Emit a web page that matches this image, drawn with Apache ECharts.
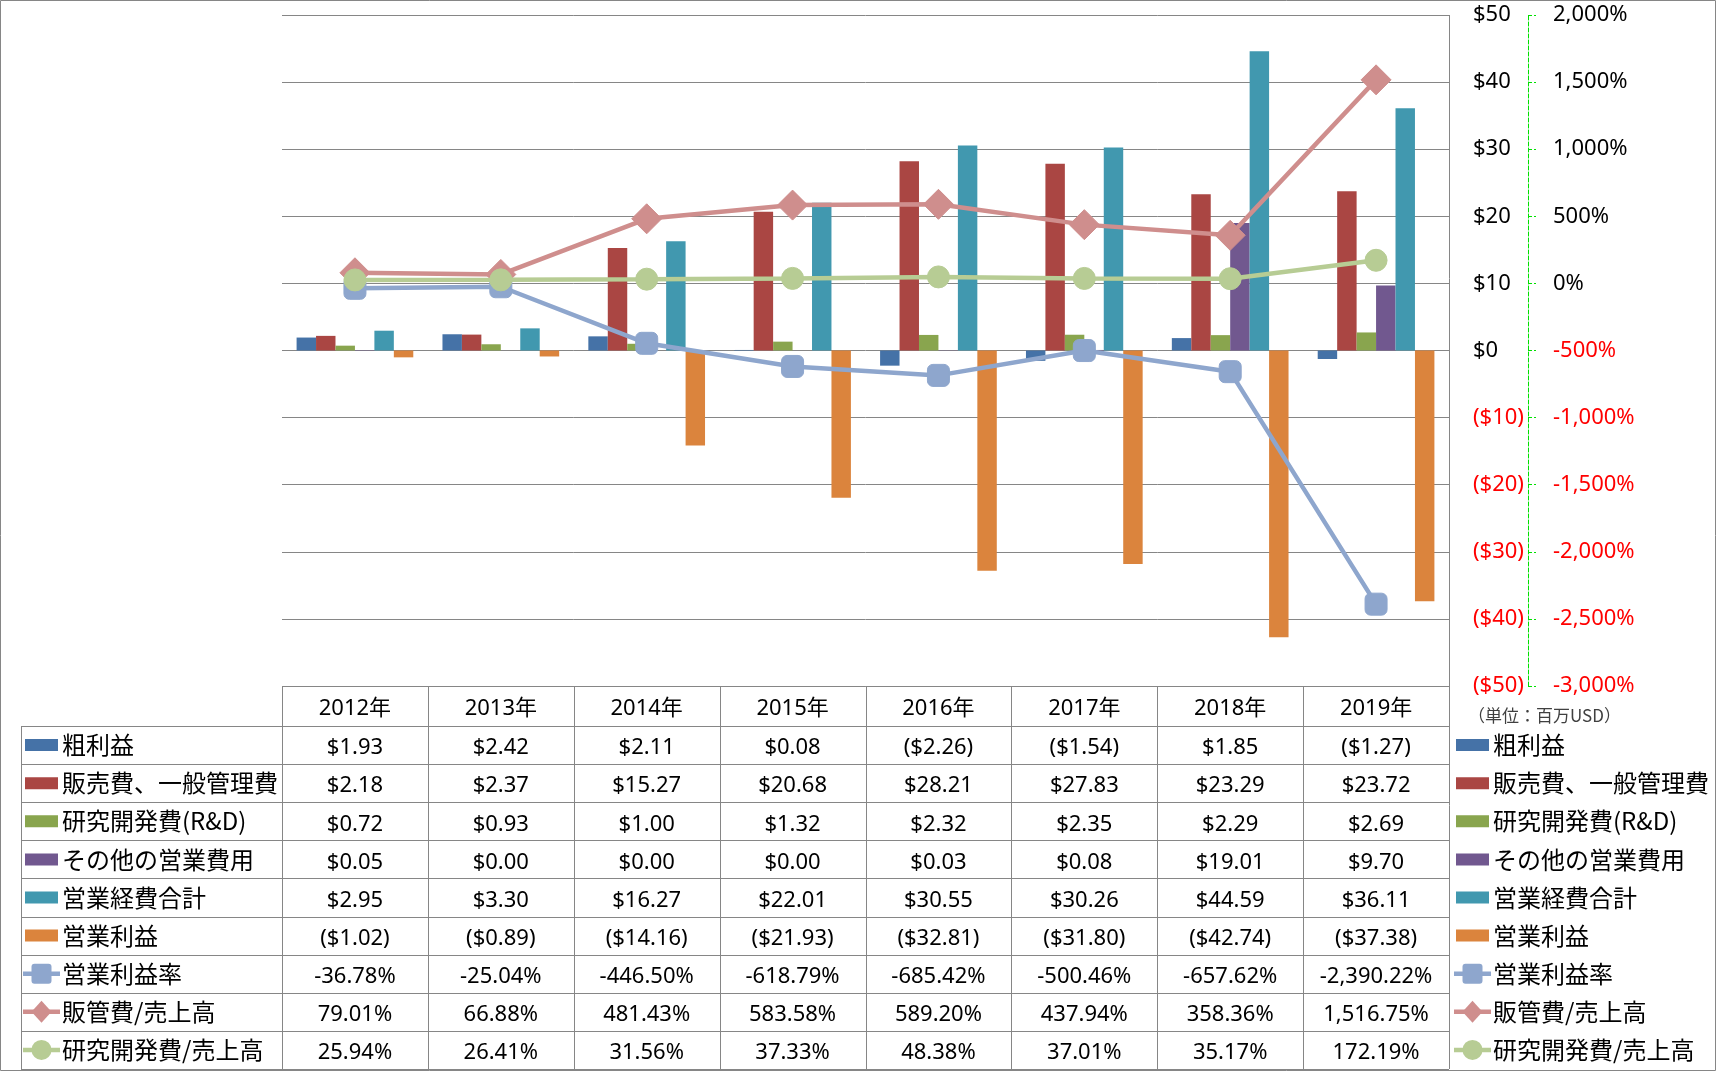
<!DOCTYPE html>
<html>
<head>
<meta charset="utf-8">
<script src="https://cdn.jsdelivr.net/npm/echarts@6/dist/echarts.min.js"></script>
<style>
html,body{margin:0;padding:0;background:#fff;}
#main{width:1716px;height:1071px;}
</style>
</head>
<body>
<div id="main"></div>
<script>
// ---- data ----
var years = ['2012年','2013年','2014年','2015年','2016年','2017年','2018年','2019年'];
var grossProfit = [1.93, 2.42, 2.11, 0.08, -2.26, -1.54, 1.85, -1.27];
var sgaExpense = [2.18, 2.37, 15.27, 20.68, 28.21, 27.83, 23.29, 23.72];
var rdExpense = [0.72, 0.93, 1.00, 1.32, 2.32, 2.35, 2.29, 2.69];
var otherExpense = [0.05, 0.00, 0.00, 0.00, 0.03, 0.08, 19.01, 9.70];
var totalOpex = [2.95, 3.30, 16.27, 22.01, 30.55, 30.26, 44.59, 36.11];
var opIncome = [-1.02, -0.89, -14.16, -21.93, -32.81, -31.80, -42.74, -37.38];
var opMargin = [-36.78, -25.04, -446.50, -618.79, -685.42, -500.46, -657.62, -2390.22];
var sgaRatio = [79.01, 66.88, 481.43, 583.58, 589.20, 437.94, 358.36, 1516.75];
var rdRatio = [25.94, 26.41, 31.56, 37.33, 48.38, 37.01, 35.17, 172.19];
var seriesNames = ['粗利益','販売費、一般管理費','研究開発費(R&D)','その他の営業費用','営業経費合計','営業利益','営業利益率','販管費/売上高','研究開発費/売上高'];
var unitNote = '（単位：百万USD）';

// ---- styles ----
var barColors = ['#4572A7','#AA4643','#89A54E','#71588F','#4198AF','#DB843D'];
var lineColors = ['#8EA6CD','#CF8E8D','#B7CC94'];
var grid = {L:282, R:1449, T:15, B:686};
var tbl = {headTop:686, headBot:726, bot:1069, labelLeft:21};
var gray = '#868686';
var numFont = '"Noto Sans", "Noto Sans CJK JP", sans-serif';
var cjkFont = '"Noto Sans CJK JP", "Noto Sans", sans-serif';
var numDy = 3;

function fmtMoney(v){
  var s = '$' + Math.abs(v).toFixed(2);
  return v < 0 ? '(' + s + ')' : s;
}
function fmtPct(v){
  return v.toLocaleString('en-US',{minimumFractionDigits:2,maximumFractionDigits:2}) + '%';
}

var chart = echarts.init(document.getElementById('main'), null, {renderer:'canvas'});

var barData = [grossProfit, sgaExpense, rdExpense, otherExpense, totalOpex, opIncome];
var lineData = [opMargin, sgaRatio, rdRatio];
var lineSymbols = ['roundRect','diamond','circle'];
var lineSymSize = [22, 30, 22];

var series = [];
barData.forEach(function(d, i){
  series.push({
    name: seriesNames[i], type:'bar', data:d, yAxisIndex:0,
    barGap:'0%', barCategoryGap:'20%',
    itemStyle:{color:barColors[i]}, z:2
  });
});
lineData.forEach(function(d, i){
  series.push({
    name: seriesNames[6+i], type:'line', data:d, yAxisIndex:1,
    symbol: lineSymbols[i], symbolSize: lineSymSize[i], showSymbol:true,
    lineStyle:{color:lineColors[i], width:4.5},
    itemStyle:{color:lineColors[i], borderColor:lineColors[i], borderWidth:1},
    z:5+i
  });
});

// ---- table & legend graphics ----
var g = [];
var colW = (grid.R - grid.L) / years.length;
var nRows = seriesNames.length;
var rowH = (tbl.bot - tbl.headBot) / nRows;
function hline(x1, x2, y){ g.push({type:'line', silent:true, shape:{x1:x1, y1:Math.round(y)+0.5, x2:x2, y2:Math.round(y)+0.5}, style:{stroke:gray, lineWidth:1}}); }
function vline(x, y1, y2){ g.push({type:'line', silent:true, shape:{x1:Math.round(x)+0.5, y1:y1, x2:Math.round(x)+0.5, y2:y2}, style:{stroke:gray, lineWidth:1}}); }
function text(t, x, y, size, family, align, color){
  g.push({type:'text', silent:true, style:{text:t, x:x, y:y, fontSize:size, fontFamily:family, align:align, verticalAlign:'middle', fill:color||'#000'}});
}
// outer border
g.push({type:'rect', silent:true, shape:{x:0.5, y:0.5, width:1715, height:1070}, style:{fill:'none', stroke:gray, lineWidth:1}});
// table lines
hline(grid.L, grid.R, tbl.headTop);
for (var r = 0; r <= nRows; r++) hline(tbl.labelLeft, grid.R, tbl.headBot + r*rowH);
vline(tbl.labelLeft, tbl.headBot, tbl.bot);
for (var c = 0; c < years.length; c++) vline(grid.L + c*colW, tbl.headTop, tbl.bot);
vline(grid.R, grid.T, tbl.bot);
// header
years.forEach(function(y, c){ text(y, grid.L + (c+0.5)*colW, (tbl.headTop+tbl.headBot)/2 + numDy, 22, numFont, 'center'); });
// rows
var rowsData = barData.concat(lineData);
rowsData.forEach(function(d, r){
  var cy = tbl.headBot + (r+0.5)*rowH + numDy;
  d.forEach(function(v, c){
    text(r < 6 ? fmtMoney(v) : fmtPct(v), grid.L + (c+0.5)*colW, cy, 22, numFont, 'center');
  });
});
// legend keys
function legendKey(r, x1, x2){
  var cy = tbl.headBot + (r+0.5)*rowH;
  if (r < 6) {
    g.push({type:'rect', silent:true, shape:{x:x1+2, y:cy-6, width:x2-x1-4, height:12}, style:{fill:barColors[r]}});
  } else {
    var li = r - 6, col = lineColors[li], cx = (x1+x2)/2;
    g.push({type:'line', silent:true, shape:{x1:x1, y1:cy, x2:x2, y2:cy}, style:{stroke:col, lineWidth:4.5}});
    if (li === 0) g.push({type:'rect', silent:true, shape:{x:cx-10, y:cy-10, width:20, height:20, r:3}, style:{fill:col}});
    else if (li === 1) g.push({type:'polygon', silent:true, shape:{points:[[cx,cy-11],[cx+10,cy],[cx,cy+11],[cx-10,cy]]}, style:{fill:col}});
    else g.push({type:'circle', silent:true, shape:{cx:cx, cy:cy, r:10}, style:{fill:col}});
  }
}
seriesNames.forEach(function(n, r){
  var cy = tbl.headBot + (r+0.5)*rowH;
  legendKey(r, 23, 60);
  text(n, 62, cy, 24, cjkFont, 'left');
  legendKey(r, 1454, 1491);
  text(n, 1493, cy, 24, cjkFont, 'left');
});
// unit note
text(unitNote, 1468, 716, 17, cjkFont, 'left', '#404040');

var option = {
  animation:false,
  backgroundColor:'#fff',
  grid:{left:grid.L, right:1716-grid.R, top:grid.T, bottom:1071-grid.B, containLabel:false},
  xAxis:{
    type:'category', data:years, boundaryGap:true,
    axisLine:{show:false}, axisTick:{show:false}, axisLabel:{show:false}, splitLine:{show:false}
  },
  yAxis:[
    {
      type:'value', position:'right', min:-50, max:50, interval:10,
      axisLine:{show:false}, axisTick:{show:false},
      splitLine:{show:true, lineStyle:{color:gray, width:1}},
      axisLabel:{
        margin:24, fontSize:22, fontFamily:numFont, padding:[4,0,0,0],
        formatter:function(v){ return v < 0 ? '($' + (-v) + ')' : '$' + v; },
        color:function(v){ return Number(v) < 0 ? '#FF0000' : '#000000'; }
      }
    },
    {
      type:'value', position:'right', offset:79, min:-3000, max:2000, interval:500,
      axisLine:{show:true, lineStyle:{color:'#00E000', width:1, type:'dashed'}},
      axisTick:{show:true, length:8, inside:false, lineStyle:{color:'#00E000', width:1, type:'dashed'}},
      splitLine:{show:false},
      axisLabel:{
        margin:25, fontSize:22, fontFamily:numFont, padding:[4,0,0,0],
        formatter:function(v){ return Number(v).toLocaleString('en-US') + '%'; },
        color:function(v){ return Number(v) < 0 ? '#FF0000' : '#000000'; }
      }
    }
  ],
  series: series,
  graphic: g
};
chart.setOption(option);
</script>
</body>
</html>
